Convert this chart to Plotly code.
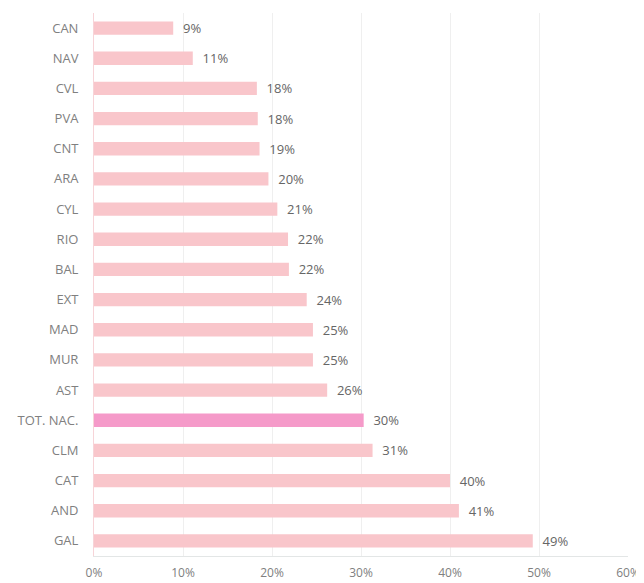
import plotly.graph_objects as go

# Regions, top to bottom as drawn
regions = ['CAN', 'NAV', 'CVL', 'PVA', 'CNT', 'ARA', 'CYL', 'RIO', 'BAL', 'EXT',
           'MAD', 'MUR', 'AST', 'TOT. NAC.', 'CLM', 'CAT', 'AND', 'GAL']
shares = [0.089, 0.111, 0.183, 0.184, 0.186, 0.196, 0.206, 0.218, 0.219, 0.239,
          0.246, 0.246, 0.262, 0.303, 0.313, 0.400, 0.410, 0.493]
x_ticks = [0, 0.1, 0.2, 0.3, 0.4, 0.5, 0.6]

bar_color = '#F9C6CB'
total_color = '#F59AC9'
colors = [total_color if r == 'TOT. NAC.' else bar_color for r in regions]

fig = go.Figure(go.Bar(
    x=shares, y=regions, orientation='h',
    marker=dict(color=colors, line=dict(width=0)),
    texttemplate='  %{x:.0%}', textposition='outside',
    textfont=dict(color='#666666', size=13),
    constraintext='none', cliponaxis=False,
))

# page body has an 8px default margin, so margins are shifted to compensate
fig.update_layout(
    width=644, height=583,
    margin=dict(l=86, r=24, t=5, b=35),
    plot_bgcolor='white', paper_bgcolor='white',
    font=dict(family='Open Sans, sans-serif', size=13, color='#808080'),
    bargap=0.56,
    showlegend=False,
)
fig.update_xaxes(
    range=[0, 0.6], tickvals=x_ticks, tickformat='.0%',
    showgrid=True, gridcolor='#efefef', gridwidth=1,
    showline=True, linecolor='#e3e6e6', zeroline=False,
    ticklabelstandoff=6, automargin=False, tickfont=dict(size=12),
)
fig.update_yaxes(
    autorange='reversed', showgrid=False,
    showline=True, linecolor='#f7d4d8', ticks='', ticklabelstandoff=12,
    automargin=False,
)

fig.write_html("out.html")
